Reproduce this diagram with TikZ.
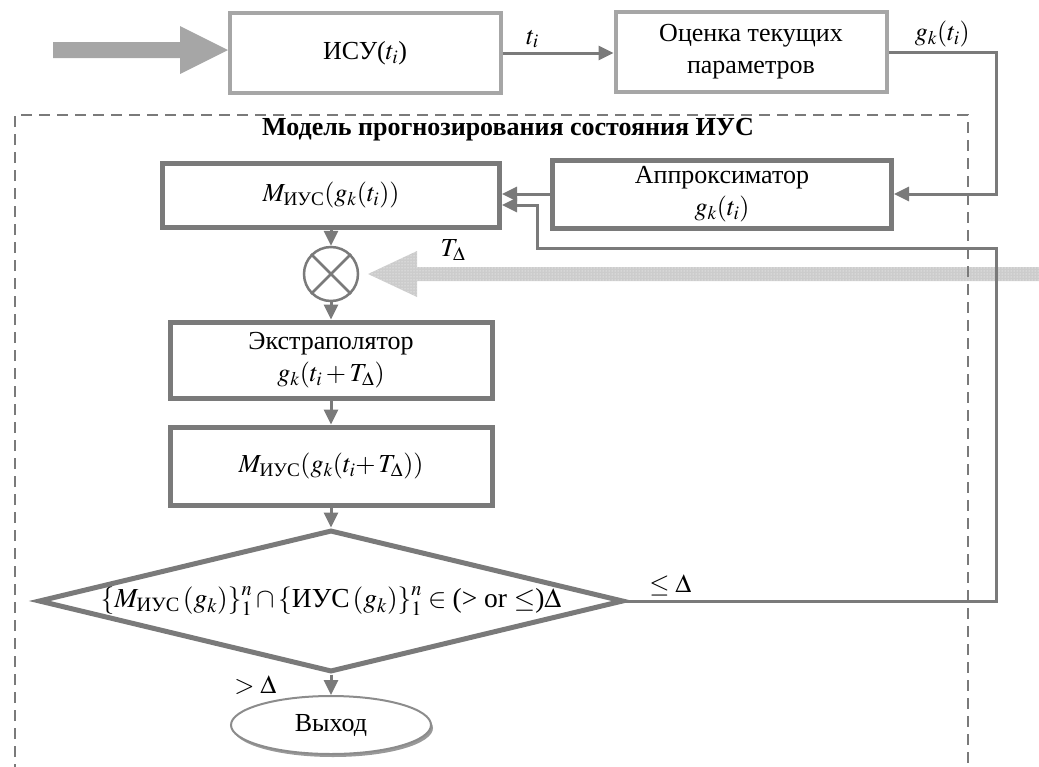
\documentclass[tikz,border=0pt]{standalone}
\usepackage{amsmath}
\usepackage{mathptmx}
\usepackage{fontspec}
\setmainfont{Liberation Serif}
\usetikzlibrary{arrows.meta,shapes.geometric,shadows,calc,patterns}

\begin{document}
\begin{tikzpicture}[x=1pt,y=-1pt,
	font=\fontsize{26}{32}\selectfont,
	outer box/.style={draw=black!35,line width=4pt,align=center,minimum height=80pt,minimum width=271pt},
	inner box/.style={draw=black!52,line width=5pt,align=center,minimum width=322pt},
	mul node/.style={circle,draw=black!52,line width=2.5pt,minimum size=54pt},
	check node/.style={diamond,draw=black!52,line width=5pt,minimum width=585pt,minimum height=142pt,inner sep=0pt},
	exit node/.style={ellipse,draw=black!45,line width=2pt,fill=white,minimum width=200pt,minimum height=58pt,
		drop shadow={shadow xshift=2pt,shadow yshift=-3pt,fill=black!40,opacity=1}},
	link/.style={draw=black!52,line width=3pt,-{Triangle[length=15pt,width=14pt]}}
]
	\useasboundingbox (0,0) rectangle (1039,766);

	% wide input arrows
	\fill[black!35] (53,42) -- (180,42) -- (180,26) -- (228,50) -- (180,74) -- (180,58) -- (53,58) -- cycle;
	\fill[black!20] (1039,267) -- (417,267) -- (417,251) -- (368,274) -- (417,297) -- (417,281) -- (1039,281) -- cycle;
	\fill[pattern=dots,pattern color=white] (1039,267) -- (417,267) -- (417,251) -- (368,274) -- (417,297) -- (417,281) -- (1039,281) -- cycle;

	% model frame
	\draw[black!52,line width=2.5pt,dash pattern=on 11pt off 7pt] (15,775) -- (15,115) -- (968,115) -- (968,775);
	\node[font=\fontsize{26}{31}\selectfont\bfseries] (title) at (508,130) {Модель прогнозирования состояния ИУС};

	\node[outer box] (isu) at (365,53) {ИСУ($t_i$)};
	\node[outer box] (est) at (751,52) {Оценка текущих\\параметров};

	\node[inner box,minimum width=337pt,minimum height=64pt] (mdl) at (331,195) {$M_{\text{ИУС}}(g_k(t_i))$};
	\node[inner box,minimum width=339pt,minimum height=68pt] (apx) at (722,194) {Аппроксиматор\\$g_k(t_i)$};
	\node[mul node] (mul) at (331,274) {};
	\draw[black!52,line width=2.5pt] (mul.north east) -- (mul.south west) (mul.north west) -- (mul.south east);
	\node (tdelta) at (453,250) {$T_\Delta$};

	\node[inner box,minimum height=76pt] (ext) at (331,360) {Экстраполятор\\$g_k(t_i+T_\Delta)$};
	\node[inner box,minimum height=78pt] (mext) at (331,466) {$M_{\text{ИУС}}(g_k(t_i\mathord{+}\,T_\Delta))$};

	\node[check node,label={[font=\fontsize{27.5}{32}\selectfont]center:$\left\{M_{\text{ИУС}}\left(g_k\right)\right\}_1^n\cap\left\{\text{ИУС}\left(g_k\right)\right\}_1^n\in\text{(> or $\le$)}\Delta$}] (chk) at (331,601) {};
	\node[exit node] (out) at (331,725) {Выход};

	\coordinate (right) at (996,0);
	\coordinate (fbturn) at (537,248);

	\draw[link] (isu.east) -- (isu.east -| est.west) node[pos=0.27,above] {$t_i$};
	\draw[link] (est.east) -- (est.east -| right) node[midway,above] {$g_k(t_i)$} |- (apx.east);
	\draw[link] (apx.west) -- (apx.west -| mdl.east);
	\draw[link] (mdl) -- (mul);
	\draw[link] (mul) -- (ext);
	\draw[link] (ext) -- (mext);
	\draw[link] (mext) -- (chk);
	\draw[link] (chk) -- (out) node[midway,left=50pt] {$>\Delta$};
	\draw[link] (chk.east) -- (chk.east -| right) node[pos=0.12,above] {$\le\Delta$} |- (fbturn) |- ($(mdl.east)+(0,10)$);
\end{tikzpicture}
\end{document}
